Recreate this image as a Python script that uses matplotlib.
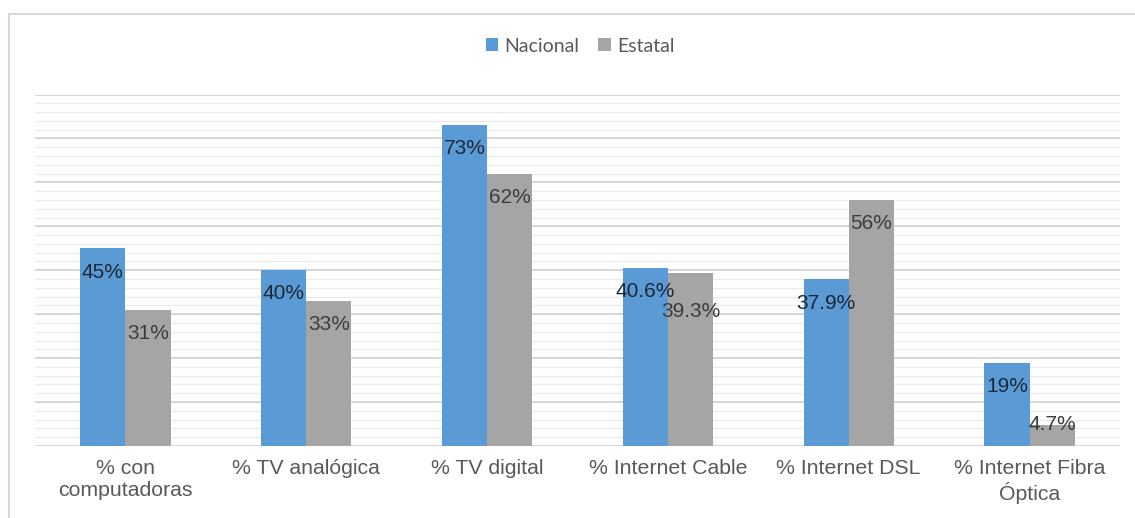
import numpy as np
import matplotlib.pyplot as plt
from matplotlib.patches import Rectangle
from matplotlib.ticker import MultipleLocator

# Hogares con TIC: comparación nacional vs. estatal
categories = ['% con\ncomputadoras', '% TV analógica', '% TV digital',
              '% Internet Cable', '% Internet DSL', '% Internet Fibra\nÓptica']
nacional = [45, 40, 73, 40.6, 37.9, 19]
estatal = [31, 33, 62, 39.3, 56, 4.7]
nacional_labels = ['45%', '40%', '73%', '40.6%', '37.9%', '19%']
estatal_labels = ['31%', '33%', '62%', '39.3%', '56%', '4.7%']

BLUE = '#5B9BD5'
GRAY = '#A5A5A5'
TEXT = '#595959'

plt.rcParams['font.family'] = ['Liberation Sans', 'DejaVu Sans']

fig = plt.figure(figsize=(11.35, 5.18), dpi=100)
fig.patch.set_facecolor('white')

# light frame around the chart area
W, H = 1135, 518
fig.patches.append(Rectangle((9 / W, -0.05), 1.2, 1 - 14 / H + 0.05,
                             transform=fig.transFigure, fill=False,
                             edgecolor='#d9d9d9', linewidth=1.5))

ax = fig.add_axes([35 / W, 1 - 446 / H, (1120 - 35) / W, (446 - 94.5) / H])

x = np.arange(len(categories))
width = 0.25
ax.bar(x - width / 2, nacional, width, color=BLUE, label='Nacional', zorder=3)
ax.bar(x + width / 2, estatal, width, color=GRAY, label='Estatal', zorder=3)


def label_y(v):
    # just inside the bar top, but never below the baseline text room
    return max(v - 5.4, 4.8)


# value labels just inside the top of each bar
for xi, vn, ve, sn, se in zip(x, nacional, estatal, nacional_labels, estatal_labels):
    yn = label_y(vn)
    ye = label_y(ve)
    # bars of nearly equal height: drop the second label below the first
    if abs(yn - ye) < 3:
        ye = yn - 4.6
    ax.text(xi - width / 2, yn, sn, ha='center', va='center',
            fontsize=15, color='#1c2838', zorder=4)
    ax.text(xi + width / 2, ye, se, ha='center', va='center',
            fontsize=15, color='#3c3c3c', zorder=4)

ax.set_xlim(-0.5, len(categories) - 0.5)
ax.set_ylim(0, 80)
ax.yaxis.set_major_locator(MultipleLocator(10))
ax.yaxis.set_minor_locator(MultipleLocator(2))
ax.grid(axis='y', which='major', color='#d2d2d2', linewidth=1.3, zorder=0)
ax.grid(axis='y', which='minor', color='#ebebeb', linewidth=0.9, zorder=0)
ax.set_axisbelow(True)

ax.set_xticks(x)
ax.set_xticklabels(categories, fontsize=15.3, color=TEXT, linespacing=1.25)
ax.tick_params(axis='x', length=0, pad=9)
ax.tick_params(axis='y', which='both', length=0, labelleft=False)
for side in ['top', 'right', 'left', 'bottom']:
    ax.spines[side].set_visible(False)

fig.legend(loc='center', bbox_to_anchor=(580 / W, 1 - 46 / H), ncol=2,
           frameon=False, handlelength=0.65, handleheight=0.65,
           handletextpad=0.3, columnspacing=1.0,
           prop={'family': 'Lato', 'size': 14}, labelcolor=TEXT)

fig.savefig('out.png', dpi=100, facecolor='white')
